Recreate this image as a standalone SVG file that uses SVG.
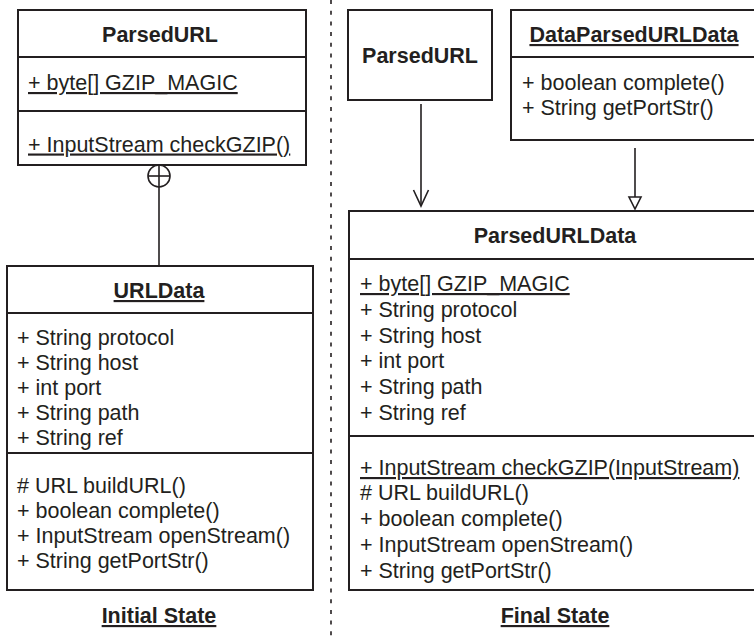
<svg xmlns="http://www.w3.org/2000/svg" width="754" height="637" viewBox="0 0 754 637">
<style>
.box{fill:#fff;stroke:#231f20;stroke-width:2}
.ln{stroke:#231f20;stroke-width:2;fill:none}
.t{font-family:"Liberation Sans",Arial,sans-serif;font-size:21.5px;fill:#231f20}
.b{font-weight:bold}
.m{text-anchor:middle}
.u{text-decoration:underline}
.conn{stroke:#231f20;stroke-width:1.6;fill:none}
</style>
<rect width="754" height="637" fill="#fff"/>
<line x1="331" y1="0" x2="331" y2="637" stroke="#231f20" stroke-width="1.6" stroke-dasharray="4 6.7"/>

<g id="left-parsedurl">
<rect class="box" x="18" y="10" width="288" height="155"/>
<line class="ln" x1="18" y1="57" x2="306" y2="57"/>
<line class="ln" x1="18" y1="111" x2="306" y2="111"/>
<text class="t b m" x="160" y="41.5">ParsedURL</text>
<text class="t u" x="28" y="90">+ byte[] GZIP_MAGIC</text>
<text class="t u" x="28" y="151.5">+ InputStream checkGZIP()</text>
</g>

<g id="urldata">
<rect class="box" x="7" y="266" width="306" height="324"/>
<line class="ln" x1="7" y1="313" x2="313" y2="313"/>
<line class="ln" x1="7" y1="453" x2="313" y2="453"/>
<text class="t b m u" x="159" y="298">URLData</text>
<text class="t" x="17" y="345">+ String protocol</text>
<text class="t" x="17" y="370">+ String host</text>
<text class="t" x="17" y="395">+ int port</text>
<text class="t" x="17" y="420">+ String path</text>
<text class="t" x="17" y="445">+ String ref</text>
<text class="t" x="17" y="493"># URL buildURL()</text>
<text class="t" x="17" y="518">+ boolean complete()</text>
<text class="t" x="17" y="543">+ InputStream openStream()</text>
<text class="t" x="17" y="568">+ String getPortStr()</text>
</g>

<g id="right-parsedurl">
<rect class="box" x="348" y="10" width="144" height="90"/>
<text class="t b m" x="420" y="63">ParsedURL</text>
</g>

<g id="dataparsedurldata">
<rect class="box" x="511" y="10" width="250" height="130"/>
<line class="ln" x1="511" y1="57" x2="761" y2="57"/>
<text class="t b m u" x="634" y="42">DataParsedURLData</text>
<text class="t" x="522" y="90">+ boolean complete()</text>
<text class="t" x="522" y="115">+ String getPortStr()</text>
</g>

<g id="parsedurldata">
<rect class="box" x="349" y="211" width="412" height="379"/>
<line class="ln" x1="349" y1="259" x2="761" y2="259"/>
<line class="ln" x1="349" y1="436" x2="761" y2="436"/>
<text class="t b m" x="555" y="243">ParsedURLData</text>
<text class="t u" x="360" y="291">+ byte[] GZIP_MAGIC</text>
<text class="t" x="360" y="317">+ String protocol</text>
<text class="t" x="360" y="343">+ String host</text>
<text class="t" x="360" y="368">+ int port</text>
<text class="t" x="360" y="394">+ String path</text>
<text class="t" x="360" y="420">+ String ref</text>
<text class="t u" x="360" y="475">+ InputStream checkGZIP(InputStream)</text>
<text class="t" x="360" y="500"># URL buildURL()</text>
<text class="t" x="360" y="526">+ boolean complete()</text>
<text class="t" x="360" y="552">+ InputStream openStream()</text>
<text class="t" x="360" y="578">+ String getPortStr()</text>
</g>

<g id="connectors">
<circle class="conn" cx="159" cy="176" r="11"/>
<line class="conn" x1="148" y1="176" x2="170" y2="176"/>
<line class="conn" x1="159" y1="165" x2="159" y2="266"/>
<line class="conn" x1="421" y1="104" x2="421" y2="206"/>
<polyline class="conn" points="413.5,190 421,206 428.5,190"/>
<line class="conn" x1="635" y1="148" x2="635" y2="197"/>
<polygon class="conn" points="629,197 641,197 635,209" fill="#fff"/>
</g>

<g id="labels">
<text class="t b m u" x="159" y="623">Initial State</text>
<text class="t b m u" x="555" y="623">Final State</text>
</g>
</svg>
